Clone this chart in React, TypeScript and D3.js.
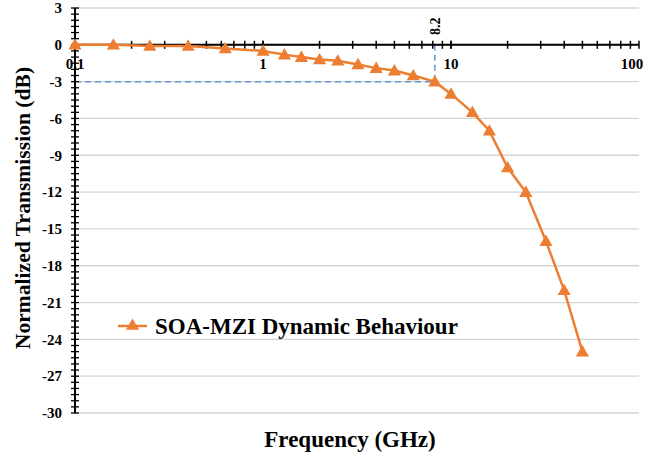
import React from "react";
import * as d3 from "d3";

const freqs = [0.1, 0.16, 0.25, 0.4, 0.63, 1, 1.3, 1.6, 2, 2.5, 3.2, 4, 5, 6.3, 8.2, 10, 13, 16, 20, 25, 32, 40, 50];
const dbValues = [0, 0, -0.1, -0.1, -0.3, -0.5, -0.8, -1.0, -1.2, -1.3, -1.6, -1.9, -2.1, -2.5, -3, -4, -5.5, -7, -10, -12, -16, -20, -25];
const yTicks = [3, 0, -3, -6, -9, -12, -15, -18, -21, -24, -27, -30];
const xTickLabels = [0.1, 1, 10, 100];
const seriesName = "SOA-MZI Dynamic Behaviour";
const markFreq = 8.2;
const markDb = -3;

const W = 652, H = 461;
const L = 75, R = 639, T = 8, B = 413;
const FONT = "Liberation Serif, Times New Roman, Times, DejaVu Serif, serif";
const ORANGE = "#ED7D31";
const BLUE = "#5B9BD5";

export default function App() {
  const x = d3.scaleLog().domain([0.1, 100]).range([L, R]);
  const y = d3.scaleLinear().domain([-30, 3]).range([B, T]);
  const y0 = y(0);

  const line = d3.line<number>().x((_, i) => x(freqs[i])).y((d) => y(d));
  const tri = d3.symbol().type(d3.symbolTriangle).size(75)();

  const minorY = d3.range(-30, 3.01, 0.5);
  const minorX: number[] = [];
  [0.1, 1, 10].forEach((dec) => {
    for (let k = 1; k <= 10; k++) minorX.push(dec * k);
  });

  const txt = { fontFamily: FONT, fontWeight: 700 as const, fill: "#000" };

  return (
    <svg width={W} height={H} style={{ position: "absolute", left: 0, top: 0, background: "#fff" }}>
      {/* gridlines */}
      {yTicks.map((t) => (
        <line key={"g" + t} x1={L} x2={R} y1={y(t)} y2={y(t)} stroke="#d4d4d4" strokeWidth={1.3} />
      ))}
      {/* dashed marker lines */}
      <line x1={L} x2={x(markFreq)} y1={y(markDb)} y2={y(markDb)} stroke={BLUE} strokeWidth={1.5} strokeDasharray="6,4" />
      <line x1={x(markFreq)} x2={x(markFreq)} y1={y0} y2={y(markDb)} stroke={BLUE} strokeWidth={1.5} strokeDasharray="6,4" />
      <text transform={`translate(${x(markFreq) + 5},${y(0.8)}) rotate(-90)`} style={{ ...txt, fontSize: 14 }}>
        8.2
      </text>
      {/* y axis */}
      <line x1={L} x2={L} y1={T} y2={B} stroke="#000" strokeWidth={2} />
      {minorY.map((t) => (
        <line key={"my" + t} x1={L - 4} x2={L + 4} y1={y(t)} y2={y(t)} stroke="#000" strokeWidth={1.3} />
      ))}
      {yTicks.map((t) => (
        <text key={"yl" + t} x={L - 13} y={y(t)} dy="0.35em" textAnchor="end" style={{ ...txt, fontSize: 15 }}>
          {t}
        </text>
      ))}
      {/* x axis at y=0 */}
      <line x1={L} x2={R} y1={y0} y2={y0} stroke="#000" strokeWidth={2} />
      {minorX.map((t, i) => (
        <line key={"mx" + i} x1={x(t)} x2={x(t)} y1={y0 - 4} y2={y0 + 4} stroke="#000" strokeWidth={1.5} />
      ))}
      {xTickLabels.map((t) => (
        <text key={"xl" + t} x={t === 100 ? x(t) - 7 : x(t)} y={y0 + 24} textAnchor="middle" style={{ ...txt, fontSize: 15 }}>
          {t}
        </text>
      ))}
      {/* series */}
      <path d={line(dbValues) || ""} fill="none" stroke={ORANGE} strokeWidth={2.5} />
      {dbValues.map((v, i) => (
        <path key={"p" + i} d={tri || ""} transform={`translate(${x(freqs[i])},${y(v) + 1})`} fill={ORANGE} />
      ))}
      {/* legend */}
      <line x1={118} x2={147} y1={326} y2={326} stroke={ORANGE} strokeWidth={2.5} />
      <path d={tri || ""} transform="translate(132.5,326)" fill={ORANGE} />
      <text x={155} y={334} style={{ ...txt, fontSize: 23 }}>
        {seriesName}
      </text>
      {/* axis titles */}
      <text transform="translate(30,208) rotate(-90)" textAnchor="middle" style={{ ...txt, fontSize: 21.6 }}>
        Normalized Transmission (dB)
      </text>
      <text x={350} y={447} textAnchor="middle" style={{ ...txt, fontSize: 23 }}>
        Frequency (GHz)
      </text>
    </svg>
  );
}
